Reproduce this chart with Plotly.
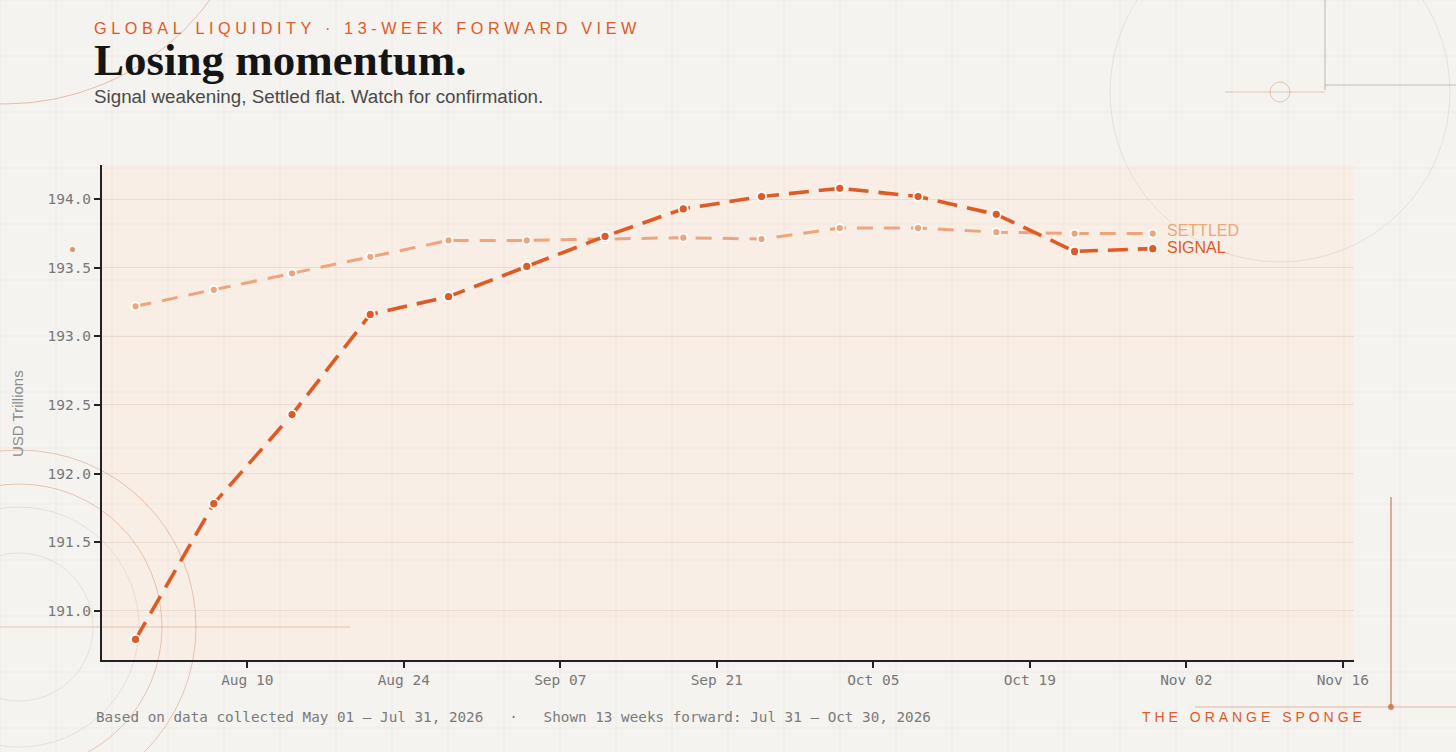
import plotly.graph_objects as go

# weekly forward dates (13 weeks after Jul 31)
dates = ["2026-07-31", "2026-08-07", "2026-08-14", "2026-08-21", "2026-08-28",
         "2026-09-04", "2026-09-11", "2026-09-18", "2026-09-25", "2026-10-02",
         "2026-10-09", "2026-10-16", "2026-10-23", "2026-10-30"]
signal = [190.79, 191.78, 192.43, 193.16, 193.29, 193.51, 193.73,
          193.93, 194.02, 194.08, 194.02, 193.89, 193.62, 193.64]
settled = [193.22, 193.34, 193.46, 193.58, 193.70, 193.70, 193.71,
           193.72, 193.71, 193.79, 193.79, 193.76, 193.75, 193.75]
x_ticks = ["2026-08-10", "2026-08-24", "2026-09-07", "2026-09-21",
           "2026-10-05", "2026-10-19", "2026-11-02", "2026-11-16"]
y_ticks = [191.0, 191.5, 192.0, 192.5, 193.0, 193.5, 194.0]

ORANGE = "#e05a24"
PEACH = "#eea57c"
BG = "#f5f3f0"
W, H = 1456, 752
L, R, T, B = 102, 102, 165, 92
PW, PH = W - L - R, H - T - B


def px(x):
    return (x - L) / PW


def py(y):
    return (H - B - y) / PH


def spaced(s, sep="\u2009\u200a"):
    return sep.join(s)


fig = go.Figure()

fig.add_trace(go.Scatter(
    x=dates, y=settled, name="SETTLED", mode="lines+markers",
    line=dict(color=PEACH, width=3, dash="16px,11px"),
    marker=dict(size=8, color=PEACH, line=dict(color="white", width=1.8)),
))
fig.add_trace(go.Scatter(
    x=dates, y=signal, name="SIGNAL", mode="lines+markers",
    line=dict(color=ORANGE, width=3.6, dash="20px,10px"),
    marker=dict(size=9, color=ORANGE, line=dict(color="white", width=1.8)),
))

# end labels
fig.add_annotation(x=dates[-1], y=settled[-1], text="SETTLED", showarrow=False,
                   xanchor="left", xshift=12, yshift=3,
                   font=dict(family="Liberation Sans", size=16, color=PEACH))
fig.add_annotation(x=dates[-1], y=signal[-1], text="SIGNAL", showarrow=False,
                   xanchor="left", xshift=12, yshift=1,
                   font=dict(family="Liberation Sans", size=16, color=ORANGE))

# header / footer text
head = [
    (spaced("GLOBAL LIQUIDITY · 13-WEEK FORWARD VIEW"), 28,
     dict(family="Liberation Sans", size=16.2, color=ORANGE)),
    ("<b>Losing momentum.</b>", 60,
     dict(family="Liberation Serif", size=45, color="#151515")),
    ("Signal weakening, Settled flat. Watch for confirmation.", 96,
     dict(family="Liberation Sans", size=18.8, color="#4a4a4a")),
]
for txt, yy, fnt in head:
    fig.add_annotation(xref="paper", yref="paper", x=px(92), y=py(yy), text=txt,
                       showarrow=False, xanchor="left", yanchor="middle", font=fnt)

fig.add_annotation(xref="paper", yref="paper", x=px(94), y=py(717),
                   text="Based on data collected May 01 – Jul 31, 2026   ·   "
                        "Shown 13 weeks forward: Jul 31 – Oct 30, 2026",
                   showarrow=False, xanchor="left", yanchor="middle",
                   font=dict(family="DejaVu Sans Mono", size=14.3, color="#7a7a7a"))
fig.add_annotation(xref="paper", yref="paper", x=px(1364), y=py(717),
                   text=spaced("THE ORANGE SPONGE"),
                   showarrow=False, xanchor="right", yanchor="middle",
                   font=dict(family="Liberation Sans", size=14, color=ORANGE))
fig.add_annotation(xref="paper", yref="paper", x=px(17), y=py(414),
                   text="USD Trillions", textangle=-90, showarrow=False,
                   xanchor="center", yanchor="middle",
                   font=dict(family="Liberation Sans", size=15, color="#8a8a8a"))

# background decoration
deco = []
gray = "rgba(120,110,100,0.18)"
faint = "rgba(120,110,100,0.10)"
org = "rgba(205,110,60,0.45)"
for gx in range(0, W, 56):
    deco.append(dict(type="line", x0=px(gx), x1=px(gx), y0=py(0), y1=py(H),
                     line=dict(color=faint, width=0.6)))
for gy in range(0, H, 56):
    deco.append(dict(type="line", x0=px(0), x1=px(W), y0=py(gy), y1=py(gy),
                     line=dict(color=faint, width=0.6)))
for r, c in [(74, gray), (120, gray), (143, org), (177, org)]:
    deco.append(dict(type="circle", x0=px(19 - r), x1=px(19 + r),
                     y0=py(627 - r), y1=py(627 + r), line=dict(color=c, width=0.8)))
deco.append(dict(type="line", x0=px(0), x1=px(350), y0=py(627), y1=py(627),
                 line=dict(color=org, width=0.8)))
deco.append(dict(type="circle", x0=px(1280 - 170), x1=px(1280 + 170),
                 y0=py(92 - 170), y1=py(92 + 170), line=dict(color=gray, width=0.8)))
deco.append(dict(type="circle", x0=px(1270), x1=px(1290), y0=py(82), y1=py(102),
                 line=dict(color=org, width=0.8)))
deco.append(dict(type="line", x0=px(1225), x1=px(1325), y0=py(92), y1=py(92),
                 line=dict(color=org, width=0.8)))
deco.append(dict(type="line", x0=px(1325), x1=px(1325), y0=py(0), y1=py(90),
                 line=dict(color="rgba(80,70,60,0.35)", width=1)))
deco.append(dict(type="line", x0=px(1325), x1=px(W), y0=py(85), y1=py(85),
                 line=dict(color="rgba(80,70,60,0.3)", width=1)))
deco.append(dict(type="circle", x0=px(-250), x1=px(260), y0=py(-410), y1=py(104),
                 line=dict(color=org, width=0.9)))
deco.append(dict(type="line", x0=px(1391), x1=px(1391), y0=py(497), y1=py(707),
                 line=dict(color="rgba(205,110,60,0.7)", width=1.5)))
deco.append(dict(type="line", x0=px(1195), x1=px(W), y0=py(707), y1=py(707),
                 line=dict(color="rgba(205,110,60,0.45)", width=1)))
deco.append(dict(type="circle", x0=px(1388), x1=px(1394), y0=py(704), y1=py(710),
                 fillcolor="rgba(205,110,60,0.8)", line=dict(width=0)))
deco.append(dict(type="circle", x0=px(70), x1=px(75), y0=py(247), y1=py(252),
                 fillcolor="rgba(205,110,60,0.7)", line=dict(width=0)))
for s in deco:
    s.update(xref="paper", yref="paper", layer="below")
fig.update_layout(shapes=deco)

fig.update_layout(
    width=W, height=H,
    margin=dict(l=L, r=R, t=T, b=B),
    paper_bgcolor=BG,
    plot_bgcolor="rgba(250,234,222,0.55)",
    showlegend=False,
    xaxis=dict(
        type="date", range=["2026-07-28", "2026-11-17"],
        tickvals=x_ticks, tickformat="%b %d",
        ticks="outside", ticklen=6, tickwidth=1.5, tickcolor="#222",
        showline=True, linecolor="#222", linewidth=2,
        showgrid=False, zeroline=False,
        tickfont=dict(family="DejaVu Sans Mono", size=14.5, color="#777"),
    ),
    yaxis=dict(
        range=[190.64, 194.25], tickvals=y_ticks, tickformat=".1f",
        ticks="outside", ticklen=6, tickwidth=1.5, tickcolor="#222",
        showline=True, linecolor="#222", linewidth=2,
        gridcolor="rgba(200,175,155,0.28)", gridwidth=1, zeroline=False,
        tickfont=dict(family="DejaVu Sans Mono", size=14.5, color="#777"),
    ),
)

# drop the default page margin so the figure sits at the window corner
fig.write_html("out.html", config={"displayModeBar": False}, post_script=(
    "document.body.style.margin='0';"
    "document.body.style.background='" + BG + "';"
    "document.body.style.overflow='hidden';"
))
